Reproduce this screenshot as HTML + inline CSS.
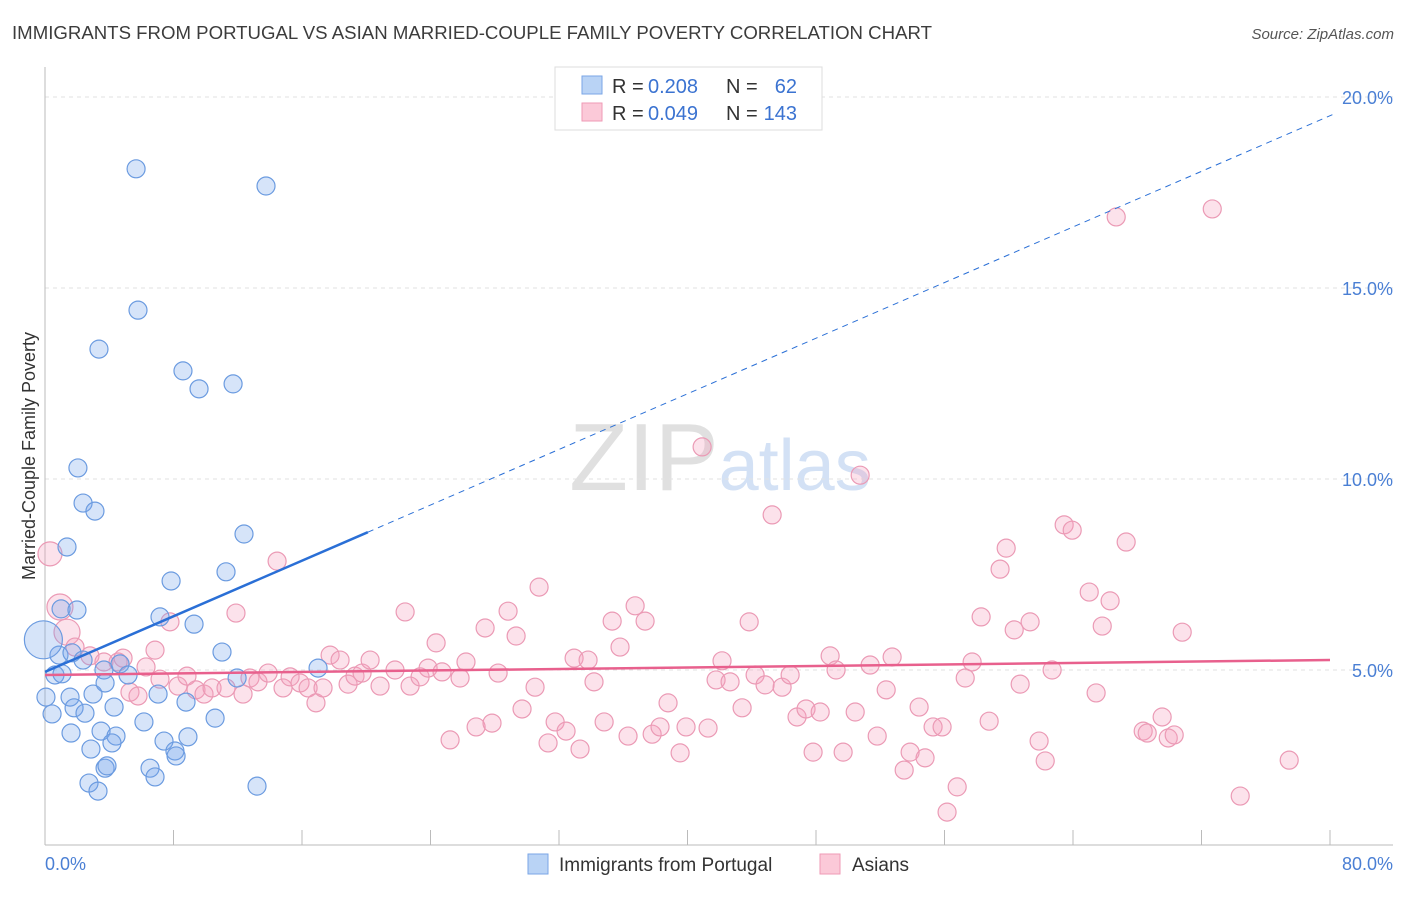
<!DOCTYPE html>
<html><head><meta charset="utf-8"><style>
body{margin:0;background:#fff;font-family:"Liberation Sans",sans-serif}
svg text{font-family:"Liberation Sans",sans-serif}
</style></head><body>
<svg id="chart" width="1406" height="892" xmlns="http://www.w3.org/2000/svg">
<text x="12" y="39" font-size="18" fill="#3c3c3c" textLength="920" lengthAdjust="spacingAndGlyphs">IMMIGRANTS FROM PORTUGAL VS ASIAN MARRIED-COUPLE FAMILY POVERTY CORRELATION CHART</text>
<text x="1394" y="39" font-size="15" fill="#555" font-style="italic" text-anchor="end">Source: ZipAtlas.com</text>
<text x="720" y="490" font-size="96" fill="#ddd" text-anchor="middle" font-family="Liberation Serif"><tspan fill="#e0e0e0">ZIP</tspan><tspan fill="#d3e1f5" font-family="Liberation Sans" font-size="72">atlas</tspan></text>
<text transform="translate(35,456) rotate(-90)" font-size="18" fill="#333" text-anchor="middle">Married-Couple Family Poverty</text>
<g id="grid"></g><g id="axes"></g><g id="pts"></g><g id="lines"></g>
<g>
<rect x="555" y="67" width="267" height="63" fill="#fff" stroke="#ddd"/>
<rect x="582" y="76" width="20" height="18" fill="#b9d3f5" stroke="#7aa6e6"/>
<rect x="582" y="103" width="20" height="18" fill="#fbc9d8" stroke="#ef9ab6"/>
<text x="612" y="93" font-size="20" fill="#333">R =</text><text x="648" y="93" font-size="20" fill="#3b73d1">0.208</text>
<text x="726" y="93" font-size="20" fill="#333">N =</text><text x="797" y="93" font-size="20" fill="#3b73d1" text-anchor="end">62</text>
<text x="612" y="120" font-size="20" fill="#333">R =</text><text x="648" y="120" font-size="20" fill="#3b73d1">0.049</text>
<text x="726" y="120" font-size="20" fill="#333">N =</text><text x="797" y="120" font-size="20" fill="#3b73d1" text-anchor="end">143</text>
</g>
<g>
<rect x="528" y="854" width="20" height="20" fill="#b9d3f5" stroke="#7aa6e6"/>
<text x="559" y="871" font-size="19" fill="#333">Immigrants from Portugal</text>
<rect x="820" y="854" width="20" height="20" fill="#fbc9d8" stroke="#ef9ab6"/>
<text x="852" y="871" font-size="19" fill="#333">Asians</text>
</g>
</svg>
<script>
const yTicks=[5,10,15,20];
const blueX=[5.67,13.76,5.79,3.36,8.59,9.59,11.71,2.05,2.37,3.11,1.37,12.39,7.85,11.27,1.00,1.99,7.16,9.28,11.02,0.87,1.68,2.37,0.62,1.06,3.67,4.67,5.17,0.06,1.56,2.99,8.78,3.74,7.04,11.96,17.00,0.44,1.81,2.49,4.30,6.16,10.59,1.62,3.49,4.42,4.17,7.41,8.90,2.86,8.09,8.16,6.54,3.74,3.86,2.74,6.85,3.30,13.20,-0.1];
const blueY=[18.12,17.67,14.42,13.40,12.83,12.36,12.49,10.29,9.37,9.16,8.22,8.56,7.33,7.57,6.60,6.57,6.39,6.20,5.47,5.39,5.45,5.26,4.87,4.90,5.00,5.16,4.87,4.29,4.29,4.37,4.16,4.66,4.37,4.79,5.05,3.85,4.01,3.87,4.03,3.64,3.74,3.35,3.40,3.27,3.09,3.14,3.25,2.93,2.88,2.75,2.43,2.43,2.49,2.04,2.20,1.83,1.96,5.79];
const pinkX=[0.31,0.93,1.37,1.87,2.80,3.67,4.55,4.86,5.29,5.79,6.29,6.85,7.78,7.16,8.28,8.84,9.40,9.90,10.40,11.27,11.89,12.33,12.76,13.26,13.89,14.45,14.82,15.26,15.88,16.38,16.87,17.31,17.75,18.37,18.87,19.30,19.74,20.24,20.86,21.79,22.42,22.73,23.35,23.85,24.35,24.72,25.84,26.21,25.22,26.84,27.40,27.83,28.21,28.83,29.33,29.70,30.51,30.76,31.32,31.76,32.44,32.94,33.31,33.81,34.18,34.81,35.31,35.80,36.30,36.74,37.36,37.80,38.29,38.79,39.54,39.91,40.91,41.28,41.78,42.15,42.65,43.40,43.84,44.21,44.83,45.27,45.89,46.39,46.82,47.38,47.82,48.26,48.88,49.25,49.69,50.44,50.75,51.37,51.81,52.37,52.74,53.49,53.86,54.42,54.79,55.29,55.85,56.16,56.79,57.29,57.72,58.28,58.78,59.46,59.84,60.34,60.71,61.33,61.89,62.27,62.70,63.45,63.95,65.01,65.44,65.82,66.31,66.69,67.31,68.37,68.62,69.55,69.93,70.30,70.80,72.67,74.41,77.46];
const pinkY=[8.04,6.65,5.99,5.60,5.37,5.21,5.21,5.31,4.42,4.32,5.08,5.52,6.26,4.76,4.58,4.84,4.48,4.37,4.53,4.53,6.49,4.37,4.79,4.69,4.92,7.85,4.53,4.82,4.66,4.53,4.14,4.53,5.39,5.26,4.63,4.84,4.92,5.26,4.58,5.00,6.52,4.58,4.82,5.05,5.71,4.95,4.79,5.21,3.17,3.51,6.10,3.61,4.92,6.54,5.89,3.98,4.55,7.17,3.09,3.64,3.40,5.31,2.93,5.26,4.69,3.64,6.28,5.60,3.27,6.68,6.28,3.32,3.51,4.14,2.83,3.51,10.84,3.48,4.74,5.24,4.69,4.01,6.26,4.87,4.61,9.06,4.55,4.87,3.77,3.98,2.85,3.90,5.37,5.00,2.85,3.90,10.10,5.13,3.27,4.48,5.34,2.38,2.85,4.03,2.70,3.51,3.51,1.28,1.94,4.79,5.21,6.39,3.66,7.64,8.19,6.05,4.63,6.26,3.14,2.62,5.00,8.80,8.66,7.04,4.40,6.15,6.81,16.86,8.35,3.40,3.35,3.77,3.22,3.30,5.99,17.07,1.70,2.64];
const blueTrend=[4.95,0.182];
const pinkTrend=[4.87,0.0049];
const NS="http://www.w3.org/2000/svg";
const X=v=>45+v*16.0625, Y=v=>861-v*38.2;
function mk(t,a,p){const e=document.createElementNS(NS,t);for(const k in a)e.setAttribute(k,a[k]);p.appendChild(e);return e;}
const grid=document.getElementById('grid'),axes=document.getElementById('axes'),pts=document.getElementById('pts'),lines=document.getElementById('lines');
yTicks.forEach(t=>{
 const l=mk('line',{x1:45,x2:1393,y1:Y(t),y2:Y(t),stroke:'#e2e2e2','stroke-dasharray':'4,4'},grid);
 
 
 const tx=mk('text',{x:1393,y:Y(t)+7,'font-size':18,fill:'#4a7fd4','text-anchor':'end'},axes);
 tx.textContent=t.toFixed(1)+'%';
 
 
});
mk('line',{x1:45,x2:45,y1:67,y2:845,stroke:'#bbb'},axes);
const xa=mk('line',{x1:45,x2:1393,y1:845,y2:845,stroke:'#bbb'},axes);


for(let v=0;v<=80;v+=8){mk('line',{x1:X(v),x2:X(v),y1:830,y2:845,stroke:'#bbb'},axes);}
[[0,'start'],[80,'end']].forEach(([v,a])=>{
 const t=mk('text',{x:v?1393:45,y:870,'font-size':18,fill:'#4a7fd4','text-anchor':a},axes);
 t.textContent=v.toFixed(1)+'%';
 
 
});
function dots(xs,ys,fill,stroke,name){
 xs.forEach((x,i)=>{
  let r=9; if(name==='blue-point'&&i===xs.length-1) r=19; if(name==='pink-point'&&i===0) r=12; if(name==='pink-point'&&(i===1||i===2)) r=13;
  const c=mk('circle',{cx:X(x),cy:Y(ys[i]),r:r,fill:fill,stroke:stroke,'stroke-width':1.2},pts);
  
  
 });
}
dots(pinkX,pinkY,'rgba(245,160,190,0.3)','#eb9ab5','pink-point');
dots(blueX,blueY,'rgba(120,165,235,0.3)','#6b9be0','blue-point');
const bl=mk('line',{x1:X(0),y1:Y(blueTrend[0]),x2:X(20.1),y2:Y(blueTrend[0]+blueTrend[1]*20.1),stroke:'#2a6fd6','stroke-width':2.5},lines);


const bd=mk('line',{x1:X(20.1),y1:Y(blueTrend[0]+blueTrend[1]*20.1),x2:X(80.3),y2:Y(blueTrend[0]+blueTrend[1]*80.3),stroke:'#2a6fd6','stroke-width':1,'stroke-dasharray':'6,5'},lines);


const pl=mk('line',{x1:X(0),y1:Y(pinkTrend[0]),x2:X(80),y2:Y(pinkTrend[0]+pinkTrend[1]*80),stroke:'#e8608d','stroke-width':2.5},lines);


</script>
</body></html>
